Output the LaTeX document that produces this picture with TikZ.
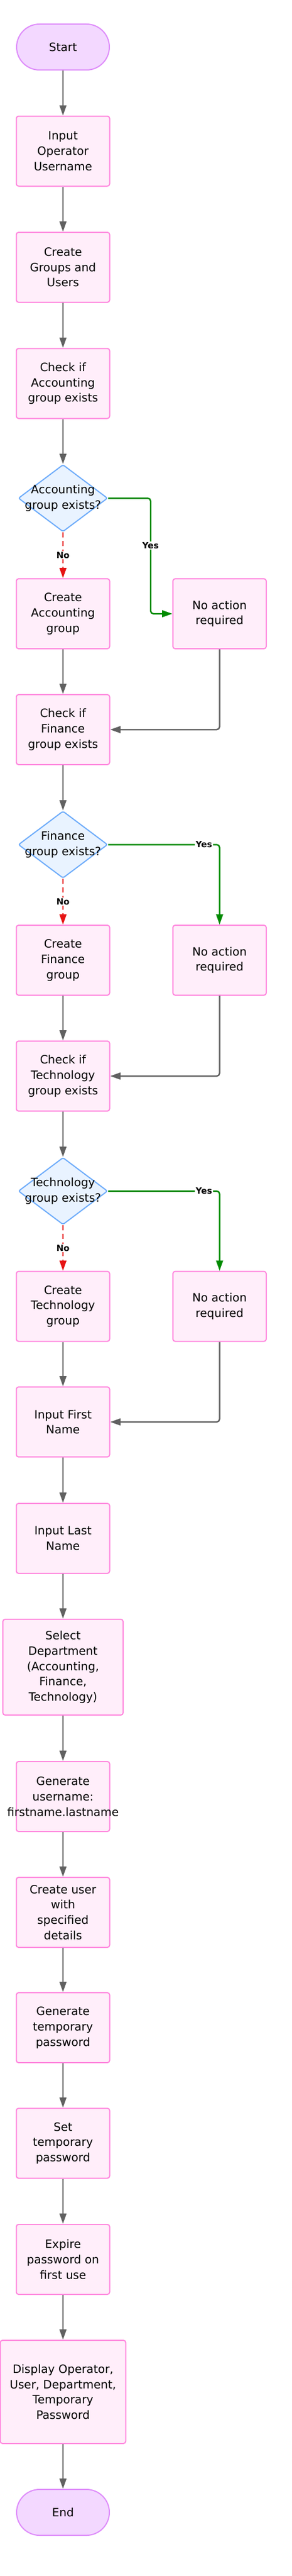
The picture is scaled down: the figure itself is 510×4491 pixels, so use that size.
\documentclass[tikz,border=0pt]{standalone}
\usepackage{fontspec}
\setmainfont{DejaVu Sans}
\usetikzlibrary{arrows.meta,shapes.geometric}
\definecolor{boxfill}{RGB}{255,238,250}
\definecolor{boxdraw}{RGB}{255,135,222}
\definecolor{termfill}{RGB}{243,216,255}
\definecolor{termdraw}{RGB}{222,140,250}
\definecolor{decfill}{RGB}{233,243,255}
\definecolor{decdraw}{RGB}{110,172,250}
\definecolor{flowgray}{RGB}{97,97,97}
\definecolor{yesgreen}{RGB}{0,138,0}
\definecolor{nored}{RGB}{230,20,20}
\newcommand{\fs}{\fontsize{20}{26.7}\selectfont}
\newcommand{\lblfs}{\fontsize{15}{18}\selectfont\bfseries}
\begin{document}
\begin{tikzpicture}[x=1pt,y=-1pt,
  proc/.style={draw=boxdraw, fill=boxfill, line width=2pt, rounded corners=4pt,
    minimum width=163pt, minimum height=122pt, align=center, inner sep=0pt, font=\fs},
  term/.style={draw=termdraw, fill=termfill, line width=2pt, rounded corners=40pt,
    minimum width=162pt, minimum height=80pt, inner sep=0pt, font=\fs},
  dec/.style={diamond, draw=decdraw, fill=decfill, line width=2pt,
    minimum width=156pt, minimum height=117pt, inner sep=0pt, rounded corners=3pt},
  dtext/.style={align=center, font=\fs, inner sep=0pt},
  flow/.style={draw=flowgray, line width=2.5pt, rounded corners=5pt,
    -{Triangle[length=18pt,width=12pt]}},
  yesflow/.style={draw=yesgreen, line width=2.5pt, rounded corners=5pt,
    -{Triangle[length=18pt,width=12pt]}},
  noflow/.style={draw=nored, line width=2.5pt, dash pattern=on 9pt off 6pt,
    -{Triangle[length=18pt,width=12pt]}},
  lbl/.style={font=\lblfs, fill=white, inner sep=1.5pt, text=black}]
\useasboundingbox (0,0) rectangle (510,4491);

% main column
\node[term] (start) at (110,82) {Start};
\node[proc] (inop) at (110,263.5) {Input\\Operator\\Username};
\node[proc] (cgu) at (110,466) {Create\\Groups and\\Users};
\node[proc] (chkA) at (110,668.5) {Check if\\Accounting\\group exists};
\node[dec] (decA) at (110,868.5) {};
\node[dtext] (decAt) at (decA.center) {Accounting\\group exists?};
\node[proc] (crA) at (110,1070) {Create\\Accounting\\group};
\node[proc] (naA) at (383.5,1070) {No action\\required};
\node[proc] (chkF) at (110,1272) {Check if\\Finance\\group exists};
\node[dec] (decF) at (110,1472.5) {};
\node[dtext] (decFt) at (decF.center) {Finance\\group exists?};
\node[proc] (crF) at (110,1674) {Create\\Finance\\group};
\node[proc] (naF) at (383.5,1674) {No action\\required};
\node[proc] (chkT) at (110,1876) {Check if\\Technology\\group exists};
\node[dec] (decT) at (110,2076.5) {};
\node[dtext] (decTt) at (decT.center) {Technology\\group exists?};
\node[proc] (crT) at (110,2277.5) {Create\\Technology\\group};
\node[proc] (naT) at (383.5,2277.5) {No action\\required};
\node[proc] (fn) at (110,2479) {Input First\\Name};
\node[proc] (ln) at (110,2682) {Input Last\\Name};
\node[proc, minimum width=210pt, minimum height=167pt] (dept) at (110,2906.5)
  {Select\\Department\\(Accounting,\\Finance,\\Technology)};
\node[proc] (gen) at (110,3132) {Generate\\username:\\\makebox[0pt]{firstname.lastname}};
\node[proc] (cu) at (110,3334) {Create user\\with\\specified\\details};
\node[proc] (gtp) at (110,3535) {Generate\\temporary\\password};
\node[proc] (stp) at (110,3736.5) {Set\\temporary\\password};
\node[proc] (exp) at (110,3939) {Expire\\password on\\first use};
\node[proc, minimum width=219pt, minimum height=180pt] (disp) at (110,4170)
  {Display Operator,\\User, Department,\\Temporary\\Password};
\node[term] (end) at (110,4380) {End};

\coordinate (yA) at (263,868.5);

% straight flow
\draw[flow] (start) -- (inop);
\draw[flow] (inop) -- (cgu);
\draw[flow] (cgu) -- (chkA);
\draw[flow] (chkA) -- (decA);
\draw[flow] (crA) -- (chkF);
\draw[flow] (chkF) -- (decF);
\draw[flow] (crF) -- (chkT);
\draw[flow] (chkT) -- (decT);
\draw[flow] (crT) -- (fn);
\draw[flow] (fn) -- (ln);
\draw[flow] (ln) -- (dept);
\draw[flow] (dept) -- (gen);
\draw[flow] (gen) -- (cu);
\draw[flow] (cu) -- (gtp);
\draw[flow] (gtp) -- (stp);
\draw[flow] (stp) -- (exp);
\draw[flow] (exp) -- (disp);
\draw[flow] (disp) -- (end);

% no branches
\draw[noflow] (decA.south) -- node[lbl] {No} (crA.north);
\draw[noflow] (decF.south) -- node[lbl] {No} (crF.north);
\draw[noflow] (decT.south) -- node[lbl] {No} (crT.north);

% yes branches
\draw[yesflow] (decA.east) -- (yA) |- node[lbl, pos=0.205] {Yes} (naA.west);
\draw[yesflow] (decF.east) -| node[lbl, pos=0.43] {Yes} (naF.north);
\draw[yesflow] (decT.east) -| node[lbl, pos=0.43] {Yes} (naT.north);

% merges
\draw[flow] (naA.south) |- (chkF.east);
\draw[flow] (naF.south) |- (chkT.east);
\draw[flow] (naT.south) |- (fn.east);
\end{tikzpicture}
\end{document}
